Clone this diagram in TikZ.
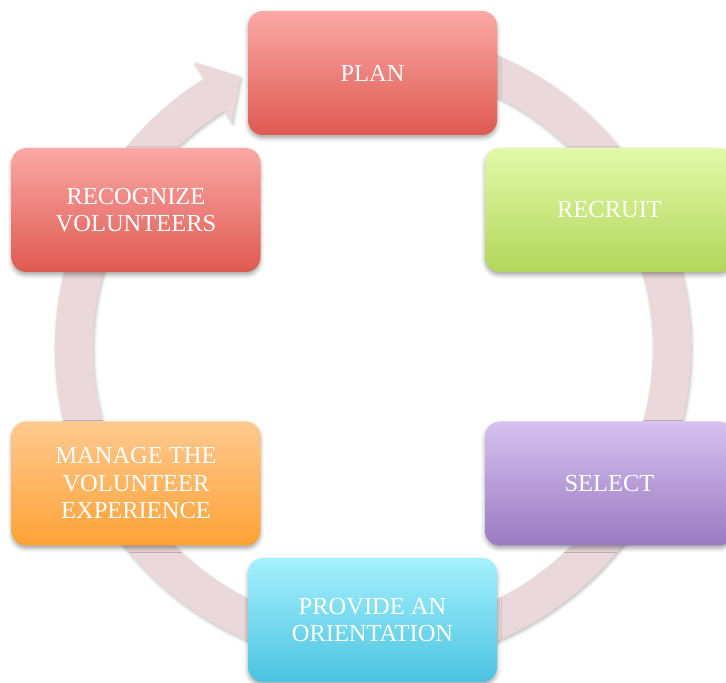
\documentclass[tikz,border=0pt]{standalone}
\usepackage{fontspec}
\setmainfont{Liberation Serif}
\usetikzlibrary{shadows.blur}
\definecolor{ringc}{RGB}{234,216,218}
\definecolor{redT}{RGB}{251,168,165}
\definecolor{redB}{RGB}{222,90,82}
\definecolor{greenT}{RGB}{227,249,170}
\definecolor{greenB}{RGB}{178,214,91}
\definecolor{purpT}{RGB}{214,193,240}
\definecolor{purpB}{RGB}{154,122,193}
\definecolor{cyanT}{RGB}{166,240,253}
\definecolor{cyanB}{RGB}{75,195,224}
\definecolor{orT}{RGB}{255,201,143}
\definecolor{orB}{RGB}{255,162,55}
\begin{document}
\begin{tikzpicture}[x=1pt,y=1pt,
  stepbox/.style={rounded corners=15pt, minimum width=249pt, minimum height=124pt,
    text=white, align=center, font=\fontsize{24.5}{27.5}\selectfont, inner sep=0pt,
    blur shadow={shadow xshift=0pt, shadow yshift=-3pt, shadow blur radius=4pt, shadow opacity=35}},
  redbox/.style={stepbox, top color=redT, bottom color=redB},
  greenbox/.style={stepbox, top color=greenT, bottom color=greenB},
  purpbox/.style={stepbox, top color=purpT, bottom color=purpB},
  cyanbox/.style={stepbox, top color=cyanT, bottom color=cyanB},
  orbox/.style={stepbox, top color=orT, bottom color=orB},
  ringstyle/.style={fill=ringc, blur shadow={shadow xshift=1pt, shadow yshift=-2pt, shadow blur radius=3pt, shadow opacity=25}}
]
\useasboundingbox (0,0) rectangle (726,683);
% circular arrow
\begin{scope}[shift={(373,335)}]
  \path[ringstyle] (122:280) -- (122:266) -- (116:302) -- (122:337) -- (122:318)
    arc[start angle=122, end angle=445, radius=318] -- (445:280)
    arc[start angle=445, end angle=122, radius=280] -- cycle;
\end{scope}
% steps
\node[redbox] (plan) at (372.5,610) {PLAN};
\node[greenbox] (recruit) at (609.5,473) {RECRUIT};
\node[purpbox] (select) at (609.5,199.5) {SELECT};
\node[cyanbox] (orient) at (372.5,63) {PROVIDE AN\\ORIENTATION};
\node[orbox] (manage) at (136,199.5) {MANAGE THE\\VOLUNTEER\\EXPERIENCE};
\node[redbox] (recog) at (136,473) {RECOGNIZE\\VOLUNTEERS};
\end{tikzpicture}
\end{document}
